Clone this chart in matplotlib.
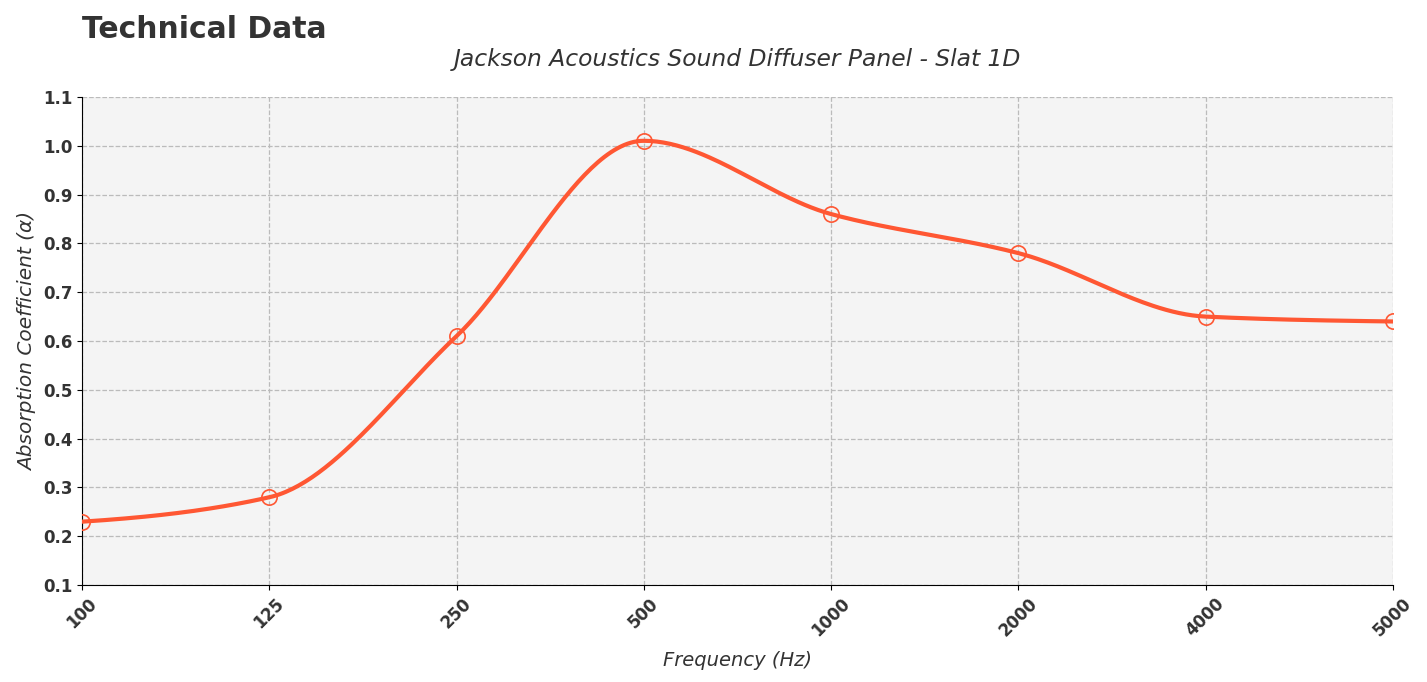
import numpy as np
import matplotlib
matplotlib.use("Agg")
import matplotlib.pyplot as plt

freqs = ["100", "125", "250", "500", "1000", "2000", "4000", "5000"]
alpha = [0.23, 0.28, 0.61, 1.01, 0.86, 0.78, 0.65, 0.64]


def pchip(x, y, xs):
    # monotone cubic curve through the points, for drawing the line only
    x = np.asarray(x, float)
    y = np.asarray(y, float)
    h = np.diff(x)
    d = np.diff(y) / h
    m = np.zeros_like(y)
    for i in range(1, len(y) - 1):
        if d[i - 1] * d[i] > 0:
            w1 = 2 * h[i] + h[i - 1]
            w2 = h[i] + 2 * h[i - 1]
            m[i] = (w1 + w2) / (w1 / d[i - 1] + w2 / d[i])
    m[0] = d[0] * 0.5
    m[-1] = d[-1] * 0.5
    idx = np.clip(np.searchsorted(x, xs) - 1, 0, len(x) - 2)
    t = (xs - x[idx]) / h[idx]
    h00 = 2 * t**3 - 3 * t**2 + 1
    h10 = t**3 - 2 * t**2 + t
    h01 = -2 * t**3 + 3 * t**2
    h11 = t**3 - t**2
    return h00 * y[idx] + h10 * h[idx] * m[idx] + h01 * y[idx + 1] + h11 * h[idx] * m[idx + 1]


pos = np.arange(len(freqs))
xs = np.linspace(0, len(freqs) - 1, 400)
ys = pchip(pos, alpha, xs)

color = "#FF5733"
text_c = "#333333"

fig = plt.figure(figsize=(14.27, 6.82), dpi=100)
ax = fig.add_axes([0.0575, 0.142, 0.9185, 0.716])
ax.set_facecolor("#f4f4f4")
ax.plot(xs, ys, color=color, lw=3, zorder=3)
ax.plot(pos, alpha, "o", ms=11, mfc="none", mec=color, mew=1.2, zorder=4)

ax.set_xlim(0, len(freqs) - 1)
ax.set_ylim(0.1, 1.1)
ax.set_xticks(pos)
ax.set_xticklabels(freqs, rotation=45, fontweight="bold", fontsize=12, color=text_c)
ax.set_yticks(np.arange(0.1, 1.11, 0.1))
ax.set_yticklabels([f"{v:.1f}" for v in np.arange(0.1, 1.11, 0.1)],
                   fontweight="bold", fontsize=12, color=text_c)
ax.grid(True, ls="--", color="#bbbbbb", lw=0.9)
for s in ["top", "right"]:
    ax.spines[s].set_visible(False)
ax.set_xlabel("Frequency (Hz)", fontstyle="italic", fontsize=14, color=text_c, labelpad=8)
ax.set_ylabel("Absorption Coefficient (α)", fontstyle="italic", fontsize=14.5, color=text_c)
ax.set_title("Jackson Acoustics Sound Diffuser Panel - Slat 1D", fontstyle="italic",
             fontsize=16.8, color=text_c, pad=22)
fig.text(0.0575, 0.945, "Technical Data", fontsize=21.5, fontweight="bold", color=text_c)

fig.savefig("out.png", dpi=100)
